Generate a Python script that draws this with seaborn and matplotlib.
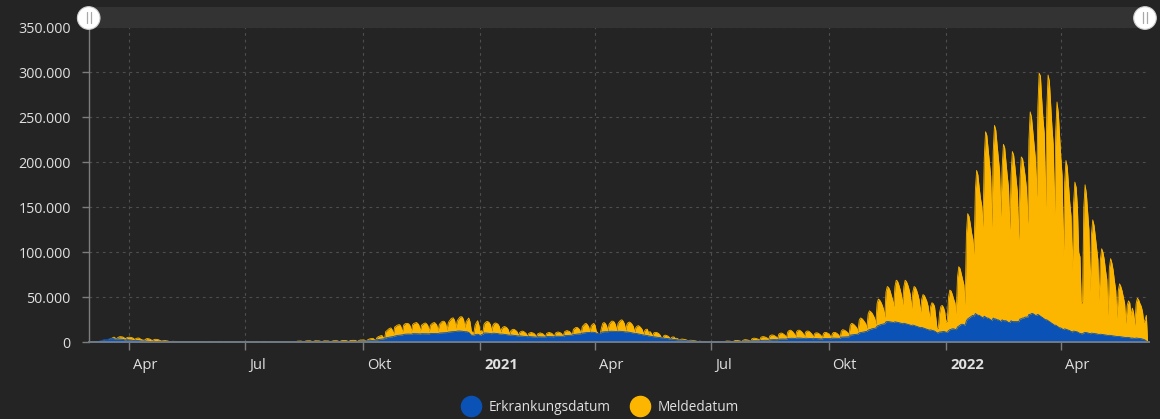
import matplotlib
matplotlib.use("Agg")
import matplotlib.pyplot as plt
import matplotlib.transforms as mtransforms
import matplotlib.ticker as mticker
from matplotlib.lines import Line2D
from matplotlib.patches import Circle, Rectangle
import pandas as pd
import seaborn as sns

# ---------------- data (daily cases, in thousands; weeks Mon..Sun) ----------------
start_date = "2020-03-02"

melde_2020 = [
    [0.1, 0.2, 0.2, 0.3, 0.4, 0.3, 0.2],
    [0.6, 0.9, 1.2, 1.5, 1.9, 1.8, 1.4],
    [2.6, 3.5, 4.2, 5.0, 5.8, 4.8, 3.6],
    [5.2, 6.0, 6.3, 6.1, 5.9, 5.0, 4.0],
    [5.0, 5.5, 5.7, 5.5, 5.2, 4.6, 3.3],
    [4.0, 4.6, 4.8, 4.5, 3.4, 2.8, 2.4],
    [2.4, 3.6, 4.2, 4.0, 3.6, 2.8, 2.0],
    [2.6, 3.3, 3.3, 3.1, 2.8, 2.1, 1.4],
    [1.6, 1.9, 1.9, 1.7, 1.5, 1.1, 0.7],
    [0.9, 1.1, 1.1, 1.0, 0.9, 0.7, 0.5],
    [0.7, 0.9, 0.9, 0.8, 0.7, 0.5, 0.4],
    [0.6, 0.7, 0.7, 0.6, 0.5, 0.4, 0.3],
    [0.5, 0.6, 0.6, 0.6, 0.5, 0.4, 0.3],
    [0.3, 0.5, 0.5, 0.5, 0.4, 0.3, 0.2],
    [0.4, 0.5, 0.5, 0.4, 0.4, 0.3, 0.2],
    [0.4, 0.5, 0.6, 0.7, 0.7, 0.6, 0.4],
    [0.6, 0.7, 0.6, 0.6, 0.5, 0.4, 0.3],
    [0.4, 0.5, 0.5, 0.4, 0.4, 0.3, 0.2],
    [0.4, 0.4, 0.4, 0.4, 0.4, 0.3, 0.2],
    [0.4, 0.5, 0.5, 0.5, 0.4, 0.3, 0.2],
    [0.5, 0.6, 0.6, 0.6, 0.5, 0.4, 0.3],
    [0.7, 0.8, 0.8, 0.8, 0.7, 0.5, 0.3],
    [0.8, 1.0, 1.0, 1.0, 0.9, 0.6, 0.4],
    [1.0, 1.3, 1.4, 1.4, 1.3, 0.8, 0.5],
    [1.3, 1.6, 1.7, 1.7, 1.6, 1.0, 0.6],
    [1.4, 1.7, 1.7, 1.6, 1.5, 1.0, 0.6],
    [1.3, 1.6, 1.6, 1.6, 1.5, 1.0, 0.6],
    [1.3, 1.7, 1.8, 1.8, 1.7, 1.1, 0.7],
    [1.6, 1.9, 2.0, 2.0, 1.9, 1.3, 0.8],
    [1.8, 2.1, 2.2, 2.2, 2.1, 1.5, 0.9],
    [2.0, 2.5, 2.6, 2.6, 2.6, 1.8, 1.1],
    [3.0, 3.6, 4.0, 4.2, 4.4, 3.1, 1.9],
    [5.0, 6.2, 6.8, 7.3, 7.6, 5.5, 3.4],
    [12.0, 13.0, 14.5, 15.5, 16.0, 14.0, 9.0],
    [17.0, 18.0, 19.0, 19.5, 19.5, 17.0, 11.0],
    [19.0, 20.5, 21.0, 21.0, 20.5, 18.5, 12.0],
    [19.5, 21.0, 21.5, 22.0, 21.0, 19.0, 12.5],
    [19.0, 20.0, 21.0, 21.5, 20.5, 18.5, 12.0],
    [19.0, 20.5, 21.5, 22.0, 21.0, 19.0, 12.5],
    [20.0, 21.5, 23.0, 23.5, 23.0, 20.5, 13.5],
    [22.0, 24.0, 26.0, 27.0, 27.0, 24.0, 16.0],
    [24.0, 26.0, 28.0, 28.5, 28.0, 25.0, 16.5],
    [23.0, 25.0, 27.0, 23.0, 13.0, 11.0, 10.0],
    [19.0, 22.0, 24.0, 19.0, 11.0, 13.0, 10.0],
]

melde_2021 = [
    [20.0, 22.0, 23.0, 23.0, 22.0, 19.5, 12.5],
    [19.0, 21.0, 21.5, 21.0, 20.0, 17.5, 11.5],
    [15.5, 17.0, 17.5, 17.0, 16.0, 14.0, 9.0],
    [12.8, 14.0, 14.5, 14.0, 13.0, 11.5, 7.5],
    [11.0, 12.0, 12.5, 12.0, 11.0, 9.8, 6.3],
    [9.8, 10.5, 11.0, 10.5, 10.0, 8.7, 5.7],
    [9.3, 10.0, 10.5, 10.0, 9.5, 8.3, 5.5],
    [9.8, 10.5, 11.0, 10.5, 10.0, 8.8, 5.7],
    [10.3, 11.0, 11.5, 11.0, 10.5, 9.2, 6.0],
    [11.5, 12.5, 13.0, 12.5, 12.0, 10.5, 6.8],
    [14.3, 15.5, 16.5, 16.5, 15.5, 13.8, 9.0],
    [17.5, 19.0, 20.5, 21.0, 19.5, 17.3, 11.3],
    [18.5, 20.0, 21.0, 19.0, 12.0, 11.0, 8.0],
    [9.0, 16.0, 21.0, 22.0, 21.0, 18.5, 12.5],
    [20.0, 22.0, 23.5, 23.5, 22.5, 19.5, 13.0],
    [21.0, 23.0, 24.5, 25.0, 23.5, 20.5, 13.5],
    [20.0, 22.0, 22.5, 21.5, 20.0, 17.5, 11.5],
    [16.5, 18.0, 18.5, 17.5, 16.0, 14.0, 9.0],
    [13.2, 14.5, 14.5, 10.0, 12.0, 10.3, 6.8],
    [10.3, 11.0, 11.0, 10.5, 9.5, 8.0, 5.2],
    [4.5, 7.5, 8.0, 7.5, 7.0, 5.8, 3.7],
    [5.5, 6.0, 5.8, 4.0, 4.5, 3.8, 2.5],
    [3.3, 3.6, 3.5, 3.2, 2.9, 2.4, 1.6],
    [2.1, 2.3, 2.2, 2.0, 1.8, 1.5, 1.0],
    [1.0, 1.2, 1.1, 1.0, 0.9, 0.7, 0.4],
    [0.7, 0.9, 0.9, 0.8, 0.7, 0.5, 0.3],
    [0.7, 1.0, 1.0, 0.9, 0.8, 0.6, 0.4],
    [1.0, 1.4, 1.4, 1.3, 1.2, 0.9, 0.5],
    [1.5, 2.0, 2.0, 1.9, 1.7, 1.3, 0.8],
    [2.2, 2.8, 2.9, 2.7, 2.4, 1.8, 1.1],
    [4.0, 4.5, 4.6, 4.3, 3.9, 3.4, 2.2],
    [5.6, 6.2, 6.3, 6.0, 5.4, 4.7, 3.0],
    [7.2, 8.0, 8.2, 7.8, 7.0, 6.1, 3.9],
    [9.0, 10.0, 10.3, 9.8, 8.8, 7.6, 4.8],
    [11.5, 13.0, 13.5, 12.8, 11.5, 9.8, 6.0],
    [12.0, 13.3, 13.5, 12.8, 11.5, 9.8, 6.1],
    [11.3, 12.5, 12.5, 11.8, 10.5, 9.0, 5.6],
    [9.5, 10.5, 10.5, 10.0, 9.0, 7.7, 4.8],
    [9.8, 11.0, 11.0, 10.4, 9.4, 8.0, 5.1],
    [9.8, 11.0, 11.0, 10.4, 9.4, 8.0, 5.3],
    [12.6, 14.0, 13.7, 13.0, 12.0, 10.8, 8.0],
    [19.0, 21.0, 20.6, 19.5, 18.0, 16.3, 12.0],
    [24.5, 27.0, 26.5, 25.0, 23.0, 21.0, 15.5],
    [31.5, 35.0, 34.0, 32.5, 30.0, 27.0, 20.0],
    [43.0, 48.0, 47.0, 44.6, 41.3, 37.0, 28.0],
    [56.0, 62.0, 61.0, 58.0, 53.0, 48.0, 40.0],
    [62.0, 69.0, 68.0, 64.0, 59.0, 53.0, 42.0],
    [62.0, 69.0, 67.5, 64.0, 59.0, 53.0, 38.0],
    [56.0, 62.0, 61.0, 57.6, 53.0, 47.0, 33.0],
    [48.0, 53.0, 52.0, 49.0, 45.5, 40.0, 27.0],
    [40.0, 44.0, 43.0, 40.0, 28.0, 15.0, 16.0],
    [33.0, 40.0, 41.0, 39.0, 34.0, 22.0, 24.0],
]

melde_2022 = [
    [50, 58, 57, 53, 48, 44, 32],
    [72, 84, 82, 76, 70, 64, 42],
    [120, 143, 140, 132, 122, 115, 98],
    [168, 191, 186, 172, 160, 152, 128],
    [205, 234, 230, 215, 200, 185, 128],
    [212, 241, 236, 220, 205, 190, 140],
    [194, 220, 216, 200, 185, 172, 125],
    [186, 212, 208, 195, 180, 166, 114],
    [182, 206, 204, 195, 185, 172, 132],
    [225, 256, 250, 235, 220, 205, 162],
    [262, 299, 296, 270, 248, 232, 151],
    [260, 297, 290, 265, 240, 220, 141],
    [235, 267, 255, 230, 205, 185, 95],
    [178, 202, 195, 175, 155, 140, 80],
    [155, 178, 172, 150, 100, 95, 43],
    [45, 150, 175, 165, 145, 125, 57],
    [120, 136, 130, 118, 105, 92, 47],
    [92, 104, 100, 92, 80, 70, 30],
    [82, 93, 88, 80, 68, 58, 27],
    [57, 65, 62, 57, 50, 43, 21],
    [41, 46, 44, 30, 38, 33, 19],
    [43, 49, 47, 43, 40, 34, 22],
    [25, 30, 0.5],
]

erkrankung_2020 = [
    [0.3, 0.4, 0.5, 0.6, 0.8, 0.8, 0.9],
    [1.5, 2.0, 2.4, 2.8, 3.2, 3.0, 3.0],
    [3.8, 4.0, 4.1, 4.2, 4.0, 3.6, 3.5],
    [3.8, 3.7, 3.6, 3.5, 3.3, 2.8, 2.6],
    [3.0, 2.9, 2.8, 2.7, 2.5, 2.1, 1.9],
    [2.2, 2.1, 2.0, 1.8, 1.6, 1.3, 1.2],
    [1.5, 1.4, 1.3, 1.2, 1.1, 0.9, 0.8],
    [1.0, 1.0, 0.9, 0.9, 0.8, 0.6, 0.6],
    [0.7, 0.7, 0.6, 0.6, 0.5, 0.4, 0.4],
    [0.55, 0.55, 0.5, 0.5, 0.45, 0.4, 0.4],
    [0.45, 0.45, 0.4, 0.4, 0.4, 0.35, 0.35],
    [0.35, 0.35, 0.35, 0.3, 0.3, 0.3, 0.3],
    [0.3, 0.3, 0.3, 0.3, 0.3, 0.25, 0.25],
    [0.25, 0.25, 0.25, 0.25, 0.25, 0.25, 0.25],
    [0.25, 0.25, 0.25, 0.3, 0.3, 0.3, 0.3],
    [0.35, 0.4, 0.4, 0.45, 0.4, 0.35, 0.35],
    [0.35, 0.3, 0.3, 0.3, 0.3, 0.25, 0.25],
    [0.25, 0.25, 0.25, 0.25, 0.25, 0.2, 0.2],
    [0.25, 0.25, 0.25, 0.25, 0.25, 0.2, 0.2],
    [0.3, 0.3, 0.3, 0.3, 0.3, 0.25, 0.25],
    [0.35, 0.35, 0.35, 0.35, 0.35, 0.3, 0.3],
    [0.4, 0.4, 0.4, 0.4, 0.4, 0.35, 0.35],
    [0.5, 0.5, 0.5, 0.5, 0.5, 0.45, 0.45],
    [0.6, 0.6, 0.6, 0.6, 0.6, 0.55, 0.55],
    [0.7, 0.7, 0.7, 0.7, 0.7, 0.65, 0.65],
    [0.75, 0.75, 0.75, 0.75, 0.7, 0.7, 0.7],
    [0.7, 0.7, 0.7, 0.7, 0.7, 0.65, 0.65],
    [0.8, 0.8, 0.8, 0.8, 0.8, 0.75, 0.75],
    [0.95, 0.95, 0.95, 0.95, 0.95, 0.9, 0.9],
    [1.05, 1.05, 1.05, 1.05, 1.05, 1.0, 1.0],
    [1.2, 1.25, 1.3, 1.35, 1.4, 1.4, 1.4],
    [1.7, 1.8, 1.9, 2.0, 2.1, 2.2, 2.3],
    [2.8, 3.0, 3.2, 3.4, 3.6, 3.8, 4.0],
    [4.8, 5.2, 5.5, 5.8, 6.0, 6.2, 6.4],
    [7.0, 7.3, 7.6, 7.8, 8.0, 8.1, 8.2],
    [8.8, 9.0, 9.1, 9.2, 9.2, 9.1, 9.0],
    [9.6, 9.6, 9.6, 9.5, 9.5, 9.4, 9.3],
    [9.6, 9.6, 9.5, 9.5, 9.5, 9.4, 9.4],
    [9.8, 9.8, 9.8, 9.8, 9.8, 9.7, 9.7],
    [10.3, 10.4, 10.5, 10.6, 10.7, 10.7, 10.8],
    [11.3, 11.5, 11.7, 11.8, 11.9, 12.0, 12.0],
    [12.5, 12.6, 12.6, 12.5, 12.3, 12.0, 11.8],
    [11.8, 11.5, 11.0, 9.5, 8.0, 7.8, 8.0],
    [8.5, 8.8, 9.0, 8.5, 7.5, 8.5, 9.0],
]

erkrankung_2021 = [
    [10.2, 10.4, 10.3, 10.2, 10.0, 9.7, 9.5],
    [10.2, 10.1, 10.0, 9.8, 9.6, 9.3, 9.0],
    [9.2, 9.0, 8.8, 8.6, 8.4, 8.1, 7.9],
    [8.2, 8.0, 7.8, 7.6, 7.4, 7.2, 7.0],
    [7.2, 7.0, 6.9, 6.7, 6.6, 6.4, 6.2],
    [6.4, 6.3, 6.2, 6.1, 6.0, 5.9, 5.8],
    [6.2, 6.1, 6.1, 6.0, 6.0, 5.9, 5.9],
    [6.4, 6.4, 6.3, 6.3, 6.3, 6.2, 6.2],
    [6.8, 6.8, 6.8, 6.7, 6.7, 6.7, 6.6],
    [7.4, 7.5, 7.6, 7.7, 7.8, 7.8, 7.9],
    [8.6, 8.8, 9.0, 9.2, 9.3, 9.4, 9.5],
    [10.2, 10.4, 10.6, 10.8, 10.9, 10.9, 10.8],
    [11.2, 11.2, 11.1, 10.8, 10.2, 9.8, 9.6],
    [10.0, 11.0, 11.5, 11.7, 11.8, 11.8, 11.7],
    [12.2, 12.3, 12.3, 12.3, 12.2, 12.0, 11.9],
    [12.3, 12.3, 12.2, 12.1, 11.9, 11.7, 11.5],
    [11.6, 11.4, 11.1, 10.8, 10.5, 10.2, 9.9],
    [9.9, 9.6, 9.3, 9.0, 8.7, 8.4, 8.1],
    [8.0, 7.7, 7.4, 7.0, 6.9, 6.6, 6.3],
    [6.2, 6.0, 5.8, 5.6, 5.4, 5.2, 5.0],
    [4.6, 4.6, 4.5, 4.3, 4.1, 3.9, 3.7],
    [3.6, 3.4, 3.2, 3.0, 2.9, 2.7, 2.5],
    [2.4, 2.3, 2.1, 2.0, 1.9, 1.7, 1.6],
    [1.6, 1.5, 1.4, 1.3, 1.2, 1.1, 1.0],
    [0.95, 0.9, 0.85, 0.8, 0.75, 0.7, 0.65],
    [0.6, 0.55, 0.55, 0.5, 0.5, 0.45, 0.45],
    [0.5, 0.5, 0.5, 0.5, 0.5, 0.45, 0.45],
    [0.65, 0.7, 0.7, 0.7, 0.7, 0.65, 0.65],
    [0.9, 0.95, 1.0, 1.0, 1.0, 0.95, 0.95],
    [1.2, 1.3, 1.3, 1.3, 1.3, 1.25, 1.25],
    [1.6, 1.7, 1.7, 1.7, 1.7, 1.6, 1.6],
    [2.1, 2.2, 2.3, 2.3, 2.3, 2.2, 2.2],
    [2.8, 2.9, 3.0, 3.0, 3.0, 2.9, 2.9],
    [3.5, 3.6, 3.7, 3.7, 3.7, 3.6, 3.6],
    [4.3, 4.4, 4.5, 4.5, 4.5, 4.3, 4.2],
    [4.8, 4.8, 4.8, 4.7, 4.6, 4.4, 4.3],
    [4.6, 4.5, 4.5, 4.4, 4.3, 4.1, 4.0],
    [4.3, 4.2, 4.1, 4.0, 3.9, 3.8, 3.7],
    [4.4, 4.3, 4.3, 4.2, 4.2, 4.1, 4.0],
    [4.7, 4.6, 4.6, 4.5, 4.5, 4.4, 4.4],
    [5.8, 5.8, 5.9, 6.0, 6.0, 6.1, 6.2],
    [8.0, 8.2, 8.4, 8.6, 8.8, 9.0, 9.1],
    [10.5, 10.8, 11.1, 11.4, 11.7, 12.0, 12.2],
    [13.5, 14.0, 14.5, 15.0, 15.3, 15.6, 15.9],
    [18.0, 18.6, 19.2, 19.7, 20.1, 20.4, 20.6],
    [22.8, 23.0, 23.0, 22.8, 22.6, 22.3, 22.0],
    [22.8, 22.5, 22.2, 21.8, 21.5, 21.0, 20.6],
    [21.2, 20.8, 20.4, 20.0, 19.6, 19.1, 18.7],
    [19.2, 18.7, 18.2, 17.7, 17.2, 16.7, 16.2],
    [16.5, 16.0, 15.5, 15.0, 14.5, 14.0, 13.5],
    [13.8, 13.4, 13.0, 12.5, 11.5, 10.5, 10.5],
    [11.5, 11.5, 11.8, 12.0, 11.8, 11.2, 11.0],
]

erkrankung_2022 = [
    [13.0, 14.0, 14.5, 15.0, 15.0, 14.5, 14.0],
    [17.0, 18.0, 19.0, 20.0, 20.0, 19.5, 19.0],
    [24.0, 26.0, 27.0, 28.0, 29.0, 30.0, 29.0],
    [32.0, 31.0, 30.0, 30.0, 29.0, 28.0, 27.0],
    [29.0, 28.0, 27.0, 27.0, 26.0, 25.0, 24.0],
    [27.0, 26.0, 26.0, 25.0, 25.0, 24.0, 23.0],
    [25.0, 24.0, 24.0, 24.0, 23.0, 22.0, 22.0],
    [24.0, 23.0, 23.0, 23.0, 23.0, 23.0, 23.0],
    [26.0, 26.0, 27.0, 27.0, 28.0, 28.0, 28.0],
    [31.0, 31.0, 32.0, 32.0, 31.0, 30.0, 30.0],
    [31.0, 30.0, 29.0, 28.0, 27.0, 26.0, 25.0],
    [25.0, 24.0, 23.0, 22.0, 21.0, 20.0, 19.0],
    [19.0, 18.0, 17.0, 16.0, 16.0, 15.0, 14.0],
    [15.0, 14.5, 14.0, 13.5, 13.0, 12.0, 11.5],
    [12.5, 12.2, 12.0, 11.5, 10.5, 10.0, 9.5],
    [9.5, 10.5, 11.0, 10.8, 10.5, 10.0, 9.5],
    [10.2, 10.0, 9.8, 9.6, 9.4, 9.0, 8.7],
    [9.0, 8.8, 8.6, 8.4, 8.2, 7.9, 7.6],
    [7.8, 7.6, 7.4, 7.2, 7.0, 6.7, 6.4],
    [6.6, 6.4, 6.2, 6.0, 5.8, 5.5, 5.2],
    [5.5, 5.3, 5.1, 4.6, 4.8, 4.5, 4.3],
    [4.8, 4.6, 4.4, 4.2, 4.0, 3.6, 3.2],
    [2.5, 1.5, 0.3],
]

series_names = ["Erkrankungsdatum", "Meldedatum"]
series_colors = ["#0a52b6", "#fdb600"]

tick_dates = ["2020-04-01", "2020-07-01", "2020-10-01", "2021-01-01", "2021-04-01",
              "2021-07-01", "2021-10-01", "2022-01-01", "2022-04-01"]
tick_labels = ["Apr", "Jul", "Okt", "2021", "Apr", "Jul", "Okt", "2022", "Apr"]
y_ticks = [0, 50, 100, 150, 200, 250, 300, 350]

# ---------------- assemble ----------------
melde = [v for wk in melde_2020 + melde_2021 + melde_2022 for v in wk]
erkr = [v for wk in erkrankung_2020 + erkrankung_2021 + erkrankung_2022 for v in wk]
dates = pd.date_range(start_date, periods=len(melde), freq="D")

df = pd.concat([
    pd.DataFrame({"Datum": dates, "Faelle": erkr, "Reihe": series_names[0]}),
    pd.DataFrame({"Datum": dates, "Faelle": melde, "Reihe": series_names[1]}),
])

# ---------------- style ----------------
BG = "#242424"
TXT = "#e0e0e0"
sns.set_theme(style="dark")
plt.rcParams["font.family"] = ["Open Sans", "DejaVu Sans"]

W, H = 1160, 419
fig = plt.figure(figsize=(W / 100, H / 100), dpi=100)
fig.patch.set_facecolor(BG)

L, R, T, B = 88.7, 1149.0, 27.3, 342.3
ax = fig.add_axes([L / W, 1 - B / H, (R - L) / W, (B - T) / H])
ax.set_facecolor(BG)

pal = dict(zip(series_names, series_colors))
d_m = df[df["Reihe"] == series_names[1]]
d_e = df[df["Reihe"] == series_names[0]]
ax.fill_between(d_m["Datum"], 0, d_m["Faelle"], color=pal[series_names[1]], lw=0, zorder=2)
sns.lineplot(data=d_m, x="Datum", y="Faelle", color=pal[series_names[1]], lw=0.6,
             ax=ax, zorder=2.1, legend=False)
ax.fill_between(d_e["Datum"], 0, d_e["Faelle"], color=pal[series_names[0]], lw=0, zorder=3)
sns.lineplot(data=d_e, x="Datum", y="Faelle", color=pal[series_names[0]], lw=0.6,
             ax=ax, zorder=3.1, legend=False)

ax.set_xlim(pd.Timestamp("2020-02-29 05:00"), pd.Timestamp("2022-06-09 02:00"))
ax.set_ylim(0, 350)
ax.set_xlabel("")
ax.set_ylabel("")

ax.set_yticks(y_ticks)
ax.yaxis.set_major_formatter(mticker.FuncFormatter(
    lambda v, p: f"{int(round(v * 1000)):,}".replace(",", ".")))
ax.set_xticks(pd.to_datetime(tick_dates), tick_labels)

ax.grid(True, color="#4e4e4e", linestyle=(0, (2.5, 3.5)), linewidth=0.8, zorder=0)
ax.set_axisbelow(True)

for s in ["top", "right"]:
    ax.spines[s].set_visible(False)
ax.spines["left"].set_color("#7d7d7d")
ax.spines["left"].set_linewidth(1.0)
ax.spines["bottom"].set_color("#6f7a88")
ax.spines["bottom"].set_linewidth(1.4)
ax.spines["bottom"].set_zorder(4)

ax.tick_params(axis="y", length=5, width=1, color="#7d7d7d", pad=8,
               labelsize=10.3, labelcolor=TXT, left=True)
ax.tick_params(axis="x", length=6, width=1, color="#7d7d7d", pad=5,
               labelsize=10.6, labelcolor=TXT, bottom=True)

offset = mtransforms.ScaledTranslation(4 / 100, 0, fig.dpi_scale_trans)
for lbl in ax.get_xticklabels():
    lbl.set_horizontalalignment("left")
    lbl.set_transform(lbl.get_transform() + offset)
    if lbl.get_text().isdigit():
        lbl.set_fontweight("bold")

# ---------------- navigator band and handles (pixel overlay) ----------------
ov = fig.add_axes([0, 0, 1, 1], zorder=10)
ov.set_xlim(0, W)
ov.set_ylim(H, 0)
ov.axis("off")
ov.add_patch(Rectangle((L, 7.3), 1145 - L, 21, facecolor="#333333", edgecolor="none"))
for cx in (88.7, 1145.0):
    ov.add_patch(Circle((cx, 18), 11.3, facecolor="white", edgecolor="#cfcfcf", lw=0.8))
    for dx in (-1.8, 1.8):
        ov.plot([cx + dx, cx + dx], [12.5, 23.5], color="#a8a8a8", lw=0.9)

# ---------------- legend ----------------
handles = [Line2D([0], [0], marker="o", linestyle="", markersize=14.5,
                  markerfacecolor=pal[n], markeredgecolor=pal[n]) for n in series_names]
leg = fig.legend(handles, series_names, loc="center", bbox_to_anchor=(0.5185, 1 - 407 / H),
                 ncol=2, frameon=False, fontsize=9.8, handletextpad=0.8,
                 columnspacing=1.6, handlelength=1.0)
for t in leg.get_texts():
    t.set_color(TXT)

fig.savefig("out.png", dpi=100, facecolor=BG)
